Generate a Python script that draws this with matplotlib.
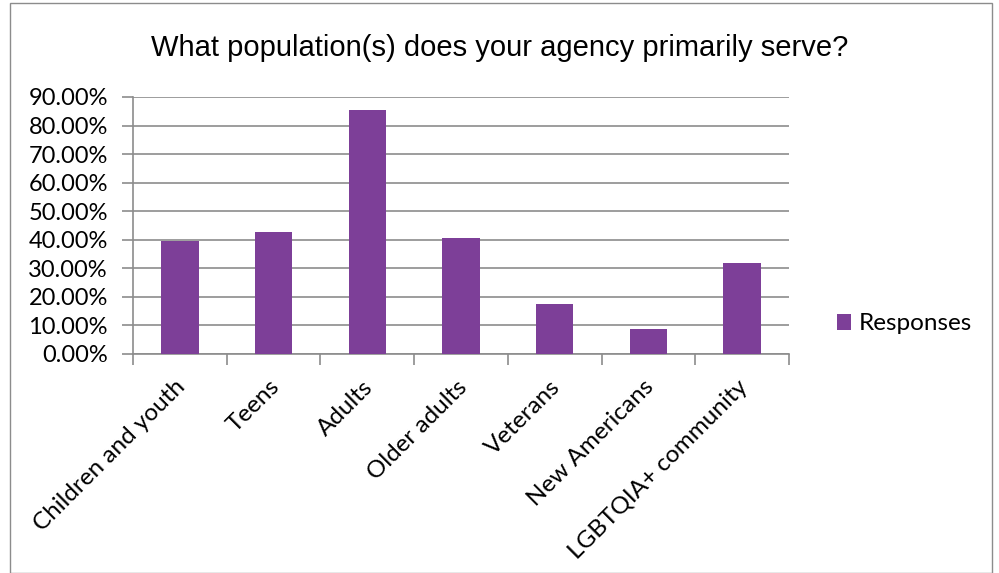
import matplotlib
matplotlib.use('Agg')
from matplotlib import pyplot as plt
from matplotlib.patches import Rectangle
from matplotlib.ticker import FuncFormatter, MultipleLocator
from matplotlib.transforms import ScaledTranslation

categories = ['Children and youth', 'Teens', 'Adults', 'Older adults',
              'Veterans', 'New Americans', 'LGBTQIA+ community']
responses = [39.4, 42.7, 85.5, 40.7, 17.6, 8.7, 31.8]

bar_color = '#7d3f98'
grid_color = '#8c8c8c'

fig = plt.figure(figsize=(9.99, 5.73), dpi=100)
ax = fig.add_axes([133/999, 1 - 354/573, (789-133)/999, (354-97)/573])

x = list(range(len(categories)))
ax.bar(x, responses, width=0.4, color=bar_color, label='Responses', zorder=3)

ax.set_xlim(-0.5, len(categories) - 0.5)
ax.set_ylim(0, 90)
ax.yaxis.set_major_locator(MultipleLocator(10))
ax.yaxis.set_major_formatter(FuncFormatter(lambda v, p: '%.2f%%' % v))
ax.grid(axis='y', color=grid_color, linewidth=1.2, zorder=0)

for s in ['top', 'right']:
    ax.spines[s].set_visible(False)
for s in ['left', 'bottom']:
    ax.spines[s].set_color(grid_color)
    ax.spines[s].set_linewidth(1.2)

# ticks at category boundaries, labels at centres
ax.set_xticks([i - 0.5 for i in range(len(categories) + 1)])
ax.set_xticklabels([])
ax.set_xticks(x, minor=True)
ax.set_xticklabels(categories, minor=True, rotation=45, ha='right',
                   rotation_mode='anchor', fontsize=17.5, family='Lato')
ax.tick_params(axis='x', which='minor', length=0, pad=16)
ax.tick_params(axis='x', which='major', length=8, color=grid_color, width=1.2)
ax.tick_params(axis='y', length=8, color=grid_color, width=1.2, labelsize=17, pad=10)
for t in ax.get_yticklabels():
    t.set_family('Lato')
shift = ScaledTranslation(-5/100, 0, fig.dpi_scale_trans)
for t in ax.get_xticklabels(minor=True):
    t.set_transform(t.get_transform() + shift)

fig.text(0.5, 1 - 48/573, 'What population(s) does your agency primarily serve?',
         ha='center', va='center', fontsize=21, family='Liberation Sans')

ax.legend(loc='center left', bbox_to_anchor=((815 - 133)/656, (354-324)/257),
          frameon=False, prop={'family': 'Lato', 'size': 17.5},
          handlelength=0.6, handleheight=0.6, handletextpad=0.3)

fig.patches.append(Rectangle((10/999, 0), (992-10)/999, 1 - 3/573,
                             transform=fig.transFigure, fill=False,
                             edgecolor='#8c8c8c', linewidth=1))

fig.savefig('out.png', dpi=100)
